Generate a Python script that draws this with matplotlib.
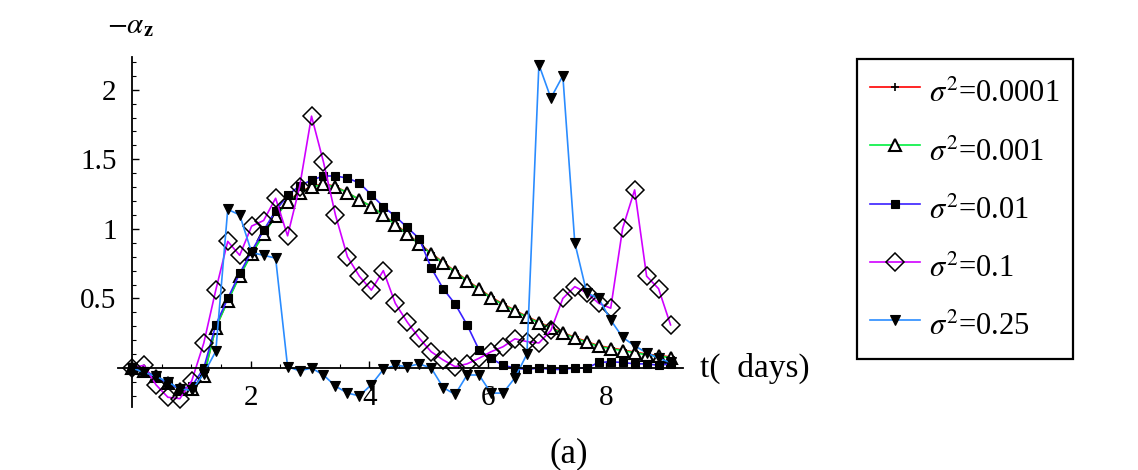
import numpy as np
import matplotlib
matplotlib.use("Agg")
import matplotlib.pyplot as plt
from matplotlib.ticker import FixedLocator, MultipleLocator, FuncFormatter

plt.rcParams['font.family'] = ['Liberation Serif', 'DejaVu Serif']
plt.rcParams['mathtext.fontset'] = 'stix'

# ---- data (time grid, 46 samples) ----
t = np.linspace(0, 9.08, 46)

s0001 = [0, -0.02, -0.06, -0.11, -0.15, -0.15, -0.055, 0.29, 0.485, 0.665,
         0.825, 0.965, 1.095, 1.195, 1.265, 1.305, 1.325, 1.305, 1.26, 1.21,
         1.16, 1.10, 1.035, 0.965, 0.895, 0.825, 0.76, 0.695, 0.63, 0.57,
         0.51, 0.46, 0.415, 0.37, 0.33, 0.29, 0.255, 0.22, 0.19, 0.16,
         0.145, 0.13, 0.115, 0.10, 0.09, 0.08]
s001 = [0, -0.02, -0.06, -0.11, -0.15, -0.15, -0.06, 0.29, 0.48, 0.66,
        0.82, 0.96, 1.09, 1.19, 1.26, 1.30, 1.32, 1.30, 1.26, 1.21,
        1.16, 1.10, 1.03, 0.96, 0.89, 0.82, 0.755, 0.69, 0.625, 0.565,
        0.505, 0.455, 0.41, 0.365, 0.325, 0.285, 0.25, 0.215, 0.185, 0.155,
        0.14, 0.125, 0.11, 0.095, 0.085, 0.075]
s01 = [0, -0.02, -0.06, -0.11, -0.15, -0.13, 0.0, 0.31, 0.50, 0.68,
       0.84, 0.99, 1.13, 1.24, 1.31, 1.35, 1.38, 1.38, 1.365, 1.33,
       1.245, 1.16, 1.09, 1.01, 0.93, 0.72, 0.57, 0.46, 0.31, 0.13,
       0.07, 0.02, 0.0, -0.01, 0.0, -0.01, -0.01, 0.0, 0.0, 0.04,
       0.045, 0.04, 0.03, 0.03, 0.02, 0.03]
s1 = [0, 0.02, -0.12, -0.21, -0.22, -0.09, 0.18, 0.56, 0.91, 0.81,
      1.02, 1.06, 1.22, 0.95, 1.30, 1.81, 1.48, 1.10, 0.80, 0.66,
      0.56, 0.70, 0.465, 0.33, 0.215, 0.117, 0.058, 0.01, 0.03, 0.07,
      0.117, 0.153, 0.21, 0.19, 0.18, 0.27, 0.50, 0.585, 0.54, 0.465,
      0.43, 1.005, 1.28, 0.66, 0.57, 0.31]
s25 = [0, -0.03, -0.06, -0.10, -0.15, -0.16, -0.04, 0.12, 1.14, 1.10,
       0.83, 0.81, 0.79, 0.01, -0.02, 0.0, -0.05, -0.13, -0.18, -0.20,
       -0.12, -0.01, 0.02, 0.01, 0.03, 0.0, -0.14, -0.19, -0.05, -0.05,
       -0.18, -0.18, -0.07, 0.10, 2.18, 1.94, 2.10, 0.90, 0.54, 0.50,
       0.345, 0.22, 0.16, 0.11, 0.07, 0.04]

labels = [r'$\sigma^2$=0.0001', r'$\sigma^2$=0.001', r'$\sigma^2$=0.01',
          r'$\sigma^2$=0.1', r'$\sigma^2$=0.25']
xticks = [2, 4, 6, 8]
yticks = [0.5, 1, 1.5, 2]

# ---- styles ----
styles = [
    dict(color='#ff0000', marker='+', ms=6, mfc='black', mec='black', mew=1.2),
    dict(color='#00f040', marker='^', ms=8, mfc='white', mec='black', mew=1.5),
    dict(color='#3a20ff', marker='s', ms=5.5, mfc='black', mec='black', mew=0.8),
    dict(color='#d000ff', marker='D', ms=9, mfc='none', mec='black', mew=1.1),
    dict(color='#2a8cff', marker='v', ms=7, mfc='black', mec='black', mew=0.8),
]
series = [s0001, s001, s01, s1, s25]

W, H = 1138, 470
fig = plt.figure(figsize=(W / 100, H / 100), dpi=100)
fig.patch.set_facecolor('white')

ax = fig.add_axes([118 / W, 1 - 407 / H, (683 - 118) / W, (407 - 57) / H])
ax.set_facecolor('none')
ax.set_xlim(-0.236, 9.29)
ax.set_ylim(-0.28, 2.235)

handles = []
for ys, st, lab in zip(series, styles, labels):
    ln, = ax.plot(t, ys, lw=1.2, label=lab, clip_on=False, **st)
    handles.append(ln)

for side in ['top', 'right']:
    ax.spines[side].set_visible(False)
ax.spines['left'].set_position(('data', 0))
ax.spines['bottom'].set_position(('data', 0))
ax.spines['left'].set_linewidth(1.3)
ax.spines['bottom'].set_linewidth(1.3)

ax.xaxis.set_major_locator(FixedLocator(xticks))
ax.xaxis.set_minor_locator(MultipleLocator(0.5))
ax.yaxis.set_major_locator(FixedLocator(yticks))
ax.yaxis.set_minor_locator(MultipleLocator(0.1))
fmt = FuncFormatter(lambda v, p: ('%g' % v))
ax.xaxis.set_major_formatter(fmt)
ax.yaxis.set_major_formatter(fmt)
ax.tick_params(which='major', direction='in', length=5, width=1.0, labelsize=21)
ax.tick_params(which='minor', direction='in', length=3, width=0.8)
ax.tick_params(axis='x', which='major', pad=12)
ax.tick_params(axis='y', which='major', pad=11)

# axis labels
fig.text(107 / W, 1 - 26 / H, r'$-\alpha_{\mathbf{z}}$', fontsize=21,
         ha='left', va='center')
fig.text(700 / W, 1 - 377 / H, 't(  days)', fontsize=24, ha='left', va='baseline')
fig.text(569 / W, 1 - 462 / H, '(a)', fontsize=25, ha='center', va='baseline')

leg = fig.legend(handles=handles, loc='upper left',
                 bbox_to_anchor=(857 / W, 1 - 59 / H), borderaxespad=0,
                 fontsize=22, handlelength=1.65, handletextpad=0.3,
                 handleheight=1.71, labelspacing=0.55, borderpad=0.42,
                 numpoints=1, fancybox=False, framealpha=1, edgecolor='black')
leg.get_frame().set_linewidth(1.6)

fig.savefig('out.png', dpi=100, facecolor='white')
